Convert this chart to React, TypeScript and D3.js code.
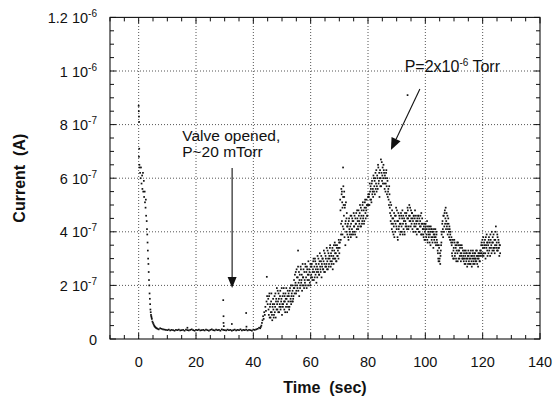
import React from "react";
import * as d3 from "d3";

// ---------- data (current in units of 1e-7 A, time in s) ----------
const xTickValues = [0, 20, 40, 60, 80, 100, 120, 140];
const yTickValues = [0, 2e-7, 4e-7, 6e-7, 8e-7, 1e-6, 1.2e-6];
const yTickMantissa = ["0", "2", "4", "6", "8", "1", "1.2"];
const yTickExponent = ["", "-7", "-7", "-7", "-7", "-6", "-6"];

const decayTime = [0, 0.05, 0.1, 0.15, 0.2, 0.1, 0.25, 0.3, 0.5, 0.7, 0.8, 1.0, 1.2, 1.3, 1.5, 1.6, 1.8, 1.9, 2.1, 2.2, 2.4, 2.5, 2.6, 2.8, 2.9, 3.0, 3.1, 3.2, 3.3, 3.4, 3.5, 3.6, 3.7, 3.8, 3.9, 4.0, 4.1, 4.2, 4.3, 4.4, 4.5, 4.6, 4.8, 5.0, 5.2, 5.4, 5.6, 5.8, 6.0, 6.3, 6.6, 7.0];
const decayCurrent = [8.7, 8.5, 8.3, 8.1, 7.1, 6.8, 6.5, 6.4, 6.2, 6.0, 6.4, 5.8, 6.1, 5.6, 6.2, 5.5, 5.9, 5.3, 5.5, 5.1, 4.9, 5.2, 4.6, 4.4, 4.1, 3.9, 3.6, 3.3, 3.0, 2.8, 2.5, 2.2, 2.0, 1.7, 1.5, 1.3, 1.1, 1.0, 0.9, 0.85, 0.8, 0.75, 0.65, 0.6, 0.55, 0.5, 0.47, 0.44, 0.42, 0.4, 0.38, 0.36];

const baselineStart = 7.5;
const baselineStep = 0.5;
const baselineCurrent = [
  0.40, 0.38, 0.36, 0.35, 0.34, 0.33, 0.35, 0.32, 0.34, 0.33,
  0.31, 0.34, 0.33, 0.35, 0.32, 0.33, 0.34, 0.31, 0.35, 0.33,
  0.32, 0.34, 0.36, 0.33, 0.31, 0.34, 0.33, 0.35, 0.32, 0.33,
  0.34, 0.32, 0.35, 0.33, 0.31, 0.34, 0.36, 0.33, 0.32, 0.35,
  0.33, 0.34, 0.31, 0.36, 0.34, 0.33, 0.32, 0.35, 0.33, 0.34,
  0.31, 0.33, 0.35, 0.32, 0.34, 0.33, 0.36, 0.32, 0.34, 0.33,
  0.35, 0.32, 0.34, 0.33, 0.31, 0.35, 0.34, 0.36, 0.38, 0.42,
];

const sampleStep = 0.2;
// first pass of samples
const riseOnset = [0.4, 0.45, 0.5, 0.6, 0.7, 0.85, 0.75, 1.0, 0.9, 1.2, 1.05, 1.4, 1.6, 1.3];
const riseEarly = [1.5, 0.9, 1.7, 1.2, 0.8, 1.4, 1.0, 0.7, 1.3, 1.1, 0.9, 1.6, 1.2, 0.8, 1.5, 1.9, 1.1, 1.4, 1.7, 1.0, 1.3, 1.8, 1.2, 1.5, 0.9, 1.6, 1.3, 1.9, 1.1, 1.4, 1.7, 1.2, 1.5, 1.0, 1.8, 1.4, 1.6, 1.2, 1.9, 1.5, 1.3, 1.7, 2.0, 1.4, 1.6];
const riseMid = [2.2, 1.7, 2.0, 2.5, 1.8, 2.3, 1.9, 2.7, 2.1, 1.6, 2.4, 2.0, 2.6, 2.2, 1.8, 2.8, 2.3, 2.0, 2.5, 2.1, 2.7, 2.3, 1.9, 2.6, 2.4, 2.9, 2.2, 2.5, 2.0, 2.7];
const riseLate = [2.4, 2.8, 2.2, 2.6, 3.0, 2.5, 2.3, 2.9, 2.6, 2.1, 2.7, 3.1, 2.5, 2.8, 2.4, 3.2, 2.6, 2.9, 2.3, 2.7, 3.0, 2.6, 3.3, 2.8, 2.5, 3.1, 2.7, 3.4, 2.9, 2.6, 3.2, 2.8, 3.0, 3.5, 2.7, 3.1, 2.9, 3.4, 3.0, 2.8, 3.3, 3.6, 3.0, 3.2, 2.9, 3.5, 3.1, 3.4, 3.7, 3.2];
const jump = [3.6, 4.8, 3.9, 5.4, 5.1, 4.2, 5.7, 4.6, 3.8, 5.0, 4.4, 4.0, 4.7];
const climb = [3.9, 4.3, 3.7, 4.5, 4.0, 4.2, 3.8, 4.6, 4.1, 4.4, 3.9, 4.7, 4.2, 4.0, 4.5, 4.3, 3.8, 4.8, 4.4, 4.1, 4.6, 4.3, 5.0, 4.5, 4.2, 4.8, 4.4, 5.1, 4.6, 4.3, 4.9, 5.2, 4.5, 4.8, 5.0, 4.6, 5.3];
const peak = [5.0, 5.4, 5.8, 5.2, 5.6, 5.1, 5.9, 5.5, 5.3, 6.0, 5.7, 5.4, 6.2, 5.8, 5.5, 6.1, 5.6, 6.4, 5.9, 5.3, 6.3, 6.0, 5.7, 6.6, 6.1, 5.8, 6.5, 6.2, 5.6, 6.0, 5.8, 6.3, 5.4, 5.9, 5.5, 5.2, 5.7];
const fallA = [4.9, 5.1, 4.6, 4.3, 4.8, 4.0, 4.5, 4.2, 3.8, 4.6, 4.3, 4.9, 4.1, 4.4, 3.7, 4.7, 4.2, 4.5, 3.9, 4.3, 4.6, 4.0, 4.8, 4.3, 4.1, 4.5, 3.9, 4.4];
const fallB = [4.3, 4.7, 4.1, 4.9, 4.5, 4.2, 5.0, 4.6, 4.4, 4.8, 4.3, 4.7, 4.5, 4.0, 4.6, 4.3, 4.8, 4.2, 4.4, 3.9, 4.5, 4.1, 4.6, 4.3, 4.0, 4.4, 4.2, 4.7, 3.9, 4.3];
const fallC = [4.1, 3.8, 4.3, 4.0, 3.7, 4.2, 3.9, 4.4, 3.6, 4.0, 3.8, 4.2, 3.9, 3.5, 4.1, 3.7, 4.0, 3.8, 3.4, 4.1, 3.9, 3.6, 3.8, 4.0, 3.7];
const dip = [3.5, 3.2, 2.9, 3.4, 3.0, 2.8, 3.3, 3.6];
const bump = [4.0, 4.4, 3.8, 4.6, 4.2, 4.8, 4.5, 4.1, 4.7, 4.3, 3.9, 4.5, 4.0, 4.2, 3.7, 4.0, 3.6];
const tailA = [3.5, 3.1, 3.7, 3.3, 3.0, 3.6, 3.2, 3.4, 2.9, 3.5, 3.2, 3.6, 3.0, 3.3, 3.1, 3.5, 2.9, 3.2, 3.4, 3.0];
const tailB = [3.1, 2.9, 3.3, 3.0, 2.8, 3.2, 3.0, 2.7, 3.1, 3.3, 2.9, 3.0, 3.2, 2.8, 3.1, 2.7, 3.0, 3.3, 2.9, 3.1, 2.8, 3.2, 3.0, 2.9, 3.3, 3.1, 2.7, 3.0, 3.2, 2.9, 3.1];
const tailC = [3.3, 3.6, 3.1, 3.5, 3.8, 3.2, 3.4, 3.7, 3.0, 3.5, 3.9, 3.3, 3.6, 3.2, 3.8, 3.4, 3.1, 3.7, 3.5, 4.0, 3.3, 3.6, 3.9, 3.4, 3.2, 3.7, 4.2, 3.5, 3.3, 3.8, 3.4, 3.6, 3.1, 3.5];

const segmentStarts = [42.4, 45.2, 54.2, 60.2, 70.2, 72.8, 80.2, 87.6, 93.2, 99.2, 104.2, 105.8, 109.2, 113.2, 119.4];
const segmentValues = [riseOnset, riseEarly, riseMid, riseLate, jump, climb, peak, fallA, fallB, fallC, dip, bump, tailA, tailB, tailC];

// second, interleaved pass of samples
const riseEarly2 = [1.1, 1.6, 0.8, 1.3, 1.0, 1.7, 0.9, 1.2, 1.5, 0.8, 1.3, 1.0, 1.7, 1.4, 1.1, 1.3, 1.8, 1.0, 1.5, 1.2, 1.6, 1.1, 1.4, 1.9, 1.3, 1.2, 1.7, 1.4, 1.6, 1.0, 1.5, 1.9, 1.3, 1.6, 1.2, 1.7, 1.1, 1.8, 1.4, 2.0, 1.6, 1.4, 1.8, 1.5, 1.9];
const riseMid2 = [1.9, 2.4, 2.1, 1.7, 2.6, 2.0, 2.3, 1.8, 2.5, 2.2, 1.9, 2.7, 2.1, 2.4, 2.0, 2.3, 2.6, 1.9, 2.2, 2.8, 2.0, 2.5, 2.7, 2.2, 2.0, 2.4, 2.6, 2.1, 2.8, 2.3];
const riseLate2 = [2.7, 2.3, 2.5, 2.9, 2.2, 2.7, 3.0, 2.4, 2.8, 2.5, 2.3, 2.6, 3.0, 2.4, 2.9, 2.7, 2.5, 3.1, 2.8, 3.0, 2.6, 2.9, 2.5, 3.2, 2.7, 3.0, 2.8, 2.6, 3.3, 3.0, 2.7, 3.1, 3.4, 2.9, 3.2, 2.8, 3.3, 2.6, 3.1, 3.5, 3.0, 3.2, 3.5, 2.9, 3.4, 3.1, 3.3, 3.0, 3.6, 3.4];
const jump2 = [5.2, 3.7, 5.6, 4.4, 3.9, 5.3, 4.1, 5.5, 4.9, 4.3, 5.1, 4.5, 4.2];
const climb2 = [4.2, 3.8, 4.4, 4.1, 3.9, 4.6, 4.3, 3.9, 4.5, 4.0, 4.4, 4.2, 4.6, 3.9, 4.3, 4.7, 4.1, 4.5, 4.2, 4.8, 4.4, 4.7, 4.2, 4.9, 4.6, 4.3, 5.0, 4.5, 4.8, 4.4, 5.1, 4.7, 4.9, 5.2, 4.6, 5.0, 5.4];
const peak2 = [5.3, 5.0, 5.5, 5.7, 5.2, 5.8, 5.4, 5.6, 6.1, 5.5, 5.9, 6.0, 5.6, 6.3, 5.7, 6.0, 6.5, 5.8, 6.2, 6.0, 5.7, 6.7, 6.2, 5.9, 6.4, 6.0, 6.3, 5.8, 6.1, 5.5, 6.2, 5.7, 6.0, 5.3, 5.6, 5.0, 5.4];
const fallA2 = [4.7, 4.4, 5.0, 4.1, 4.5, 4.3, 3.9, 4.7, 4.4, 4.0, 4.6, 4.2, 4.8, 3.8, 4.4, 4.1, 4.6, 4.3, 4.0, 4.7, 4.2, 4.5, 3.9, 4.6, 4.4, 4.0, 4.7, 4.2];
const fallB2 = [4.6, 4.2, 4.5, 4.8, 4.1, 4.6, 4.4, 4.9, 4.2, 4.5, 4.7, 4.1, 4.4, 4.6, 4.2, 4.5, 4.0, 4.6, 4.3, 4.1, 4.4, 4.6, 4.0, 4.5, 4.2, 4.6, 3.9, 4.3, 4.5, 4.1];
const fallC2 = [3.9, 4.2, 3.7, 4.1, 4.3, 3.8, 4.1, 3.7, 4.2, 3.9, 4.1, 3.6, 4.0, 4.2, 3.8, 4.1, 3.6, 4.0, 3.9, 3.7, 3.8, 4.1, 3.5, 3.9, 3.6];
const dip2 = [3.3, 3.0, 3.5, 2.9, 3.2, 3.1, 3.5, 3.9];
const bump2 = [4.3, 4.1, 4.6, 4.0, 4.7, 4.3, 4.9, 4.4, 4.2, 4.6, 4.1, 4.3, 3.8, 4.1, 3.9, 3.7, 3.8];
const tailA2 = [3.2, 3.6, 3.0, 3.4, 3.7, 3.1, 3.5, 3.0, 3.3, 3.6, 2.9, 3.3, 3.5, 3.0, 3.4, 3.2, 3.1, 3.5, 3.0, 3.3];
const tailB2 = [3.0, 3.2, 2.8, 3.1, 3.3, 2.9, 3.2, 3.0, 2.8, 3.1, 3.2, 2.8, 3.0, 3.3, 2.9, 3.1, 3.2, 2.8, 3.0, 3.2, 3.0, 2.9, 3.3, 3.1, 2.8, 3.0, 3.2, 3.1, 2.9, 3.3, 3.2];
const tailC2 = [3.5, 3.2, 3.7, 3.4, 3.1, 3.6, 3.5, 3.2, 3.8, 3.4, 3.6, 3.1, 3.5, 3.7, 3.3, 3.6, 3.9, 3.4, 3.2, 3.6, 3.8, 3.4, 3.3, 3.7, 3.5, 4.0, 3.4, 3.6, 3.9, 3.3, 3.7, 3.4, 3.5, 3.2];

const segmentStarts2 = [45.3, 54.3, 60.3, 70.3, 72.9, 80.3, 87.7, 93.3, 99.3, 104.3, 105.9, 109.3, 113.3, 119.5];
const segmentValues2 = [riseEarly2, riseMid2, riseLate2, jump2, climb2, peak2, fallA2, fallB2, fallC2, dip2, bump2, tailA2, tailB2, tailC2];

const strayTime = [17.0, 29.5, 29.6, 29.6, 29.7, 32.5, 37.5, 37.6, 44.7, 55.6, 71.3, 93.8, 70.9, 71.1, 71.7, 72.1, 70.6, 71.5];
const strayCurrent = [0.42, 1.45, 0.85, 0.6, 0.48, 0.56, 0.97, 0.46, 2.32, 3.3, 6.4, 9.1, 5.5, 4.9, 5.3, 3.5, 4.3, 5.0];

// annotations (time, current in 1e-7 A)
const valveText = ["Valve opened,", "P~20 mTorr"];
const valveTextPos = [15.2, 7.39, 6.79];
const valveArrow = [32.6, 6.38, 1.9];
const pressureArrow = [98.1, 9.33, 88.0, 7.05];
const pressureTextPos = [92.8, 9.96];

// ---------- chart ----------
const W = 555;
const H = 400;
const margin = { left: 110, right: 15, top: 17.4, bottom: 61 };

function buildPoints() {
  const pts: [number, number][] = [];
  decayTime.forEach((t, i) => pts.push([t, decayCurrent[i]]));
  baselineCurrent.forEach((v, i) => pts.push([baselineStart + i * baselineStep, v]));
  segmentValues.forEach((vals, s) => {
    vals.forEach((v, i) => pts.push([segmentStarts[s] + i * sampleStep, v]));
  });
  segmentValues2.forEach((vals, s) => {
    vals.forEach((v, i) => pts.push([segmentStarts2[s] + i * sampleStep, v]));
  });
  strayTime.forEach((t, i) => pts.push([t, strayCurrent[i]]));
  return pts;
}

function Arrow({ x1, y1, x2, y2, len, half }: any) {
  const ang = Math.atan2(y2 - y1, x2 - x1);
  const bx = x2 - len * Math.cos(ang);
  const by = y2 - len * Math.sin(ang);
  const px = -Math.sin(ang) * half;
  const py = Math.cos(ang) * half;
  return (
    <g>
      <line x1={x1} y1={y1} x2={bx} y2={by} stroke="#111" strokeWidth={1.1} />
      <path d={`M${x2},${y2}L${bx + px},${by + py}L${bx - px},${by - py}Z`} fill="#111" />
    </g>
  );
}

export default function App() {
  const x = d3.scaleLinear().domain([-10, 140]).range([margin.left, W - margin.right]);
  const y = d3.scaleLinear().domain([0, 1.2e-6]).range([H - margin.bottom, margin.top]);
  const yv = (v: number) => y(v * 1e-7);
  const pts = buildPoints();
  const font = "'Liberation Sans', Arial, Helvetica, sans-serif";
  const x0 = x.range()[0], x1 = x.range()[1];
  const y0 = y.range()[0], y1 = y.range()[1];

  const xMinor = d3.range(-10, 140.01, 5);
  const yMinor = d3.range(0, 1.2001e-6, 0.5e-7);
  const gridX = xTickValues.filter((v) => v < 140);
  const gridY = yTickValues.filter((v) => v > 0 && v < 1.2e-6);

  return (
    <svg width={W} height={H} style={{ position: "absolute", left: 0, top: 0, background: "#fff" }} fontFamily={font}>
      {/* grid */}
      {gridX.map((v) => (
        <line key={"gx" + v} x1={x(v)} x2={x(v)} y1={y0} y2={y1} stroke="#555" strokeWidth={1} strokeDasharray="1 2" />
      ))}
      {gridY.map((v) => (
        <line key={"gy" + v} x1={x0} x2={x1} y1={y(v)} y2={y(v)} stroke="#555" strokeWidth={1} strokeDasharray="1 2" />
      ))}
      {/* ticks */}
      {xMinor.map((v) => {
        const major = v % 20 === 0;
        const L = major ? 6 : 4;
        return (
          <g key={"xm" + v}>
            <line x1={x(v)} x2={x(v)} y1={y0} y2={y0 - L} stroke="#111" />
            <line x1={x(v)} x2={x(v)} y1={y1} y2={y1 + L} stroke="#111" />
          </g>
        );
      })}
      {yMinor.map((v, i) => {
        const major = i % 4 === 0;
        const L = major ? 6 : 4;
        return (
          <g key={"ym" + i}>
            <line x1={x0} x2={x0 + L} y1={y(v)} y2={y(v)} stroke="#111" />
            <line x1={x1} x2={x1 - L} y1={y(v)} y2={y(v)} stroke="#111" />
          </g>
        );
      })}
      {/* frame */}
      <rect x={x0} y={y1} width={x1 - x0} height={y0 - y1} fill="none" stroke="#111" strokeWidth={1.1} />
      {/* data */}
      {pts.map(([t, v], i) => (
        <rect key={"p" + i} x={x(t) - 0.85} y={yv(v) - 0.85} width={1.7} height={1.7} fill="#111" />
      ))}
      {/* x tick labels */}
      {xTickValues.map((v) => (
        <text key={"xl" + v} x={x(v)} y={y0 + 28} textAnchor="middle" fontSize={14.5} fill="#111">
          {v}
        </text>
      ))}
      {/* y tick labels */}
      {yTickValues.map((v, i) => (
        <text key={"yl" + i} x={97} y={y(v) + 5.5} textAnchor="end" fontSize={14.5} fill="#111">
          {yTickMantissa[i]}
          {yTickExponent[i] ? " 10" : ""}
          {yTickExponent[i] ? (
            <tspan dy={-6} fontSize={10}>
              {yTickExponent[i]}
            </tspan>
          ) : null}
        </text>
      ))}
      {/* axis titles */}
      <text x={(x0 + x1) / 2} y={393} textAnchor="middle" fontSize={16} fontWeight="bold" fill="#111" style={{ whiteSpace: "pre" }}>
        {"Time  (sec)"}
      </text>
      <text transform={`translate(25,${(y0 + y1) / 2}) rotate(-90)`} textAnchor="middle" fontSize={16} fontWeight="bold" fill="#111" style={{ whiteSpace: "pre" }}>
        {"Current  (A)"}
      </text>
      {/* annotations */}
      <text x={x(valveTextPos[0])} y={yv(valveTextPos[1])} fontSize={15.5} fill="#111">
        {valveText[0]}
      </text>
      <text x={x(valveTextPos[0])} y={yv(valveTextPos[2])} fontSize={15.5} fill="#111">
        {valveText[1]}
      </text>
      <Arrow x1={x(valveArrow[0])} y1={yv(valveArrow[1])} x2={x(valveArrow[0])} y2={yv(valveArrow[2])} len={11} half={4.5} />
      <text x={x(pressureTextPos[0])} y={yv(pressureTextPos[1])} fontSize={16} fill="#111">
        P=2x10
        <tspan dy={-6} fontSize={10}>-6</tspan>
        <tspan dy={6}> Torr</tspan>
      </text>
      <Arrow x1={x(pressureArrow[0])} y1={yv(pressureArrow[1])} x2={x(pressureArrow[2])} y2={yv(pressureArrow[3])} len={12} half={5} />
    </svg>
  );
}
